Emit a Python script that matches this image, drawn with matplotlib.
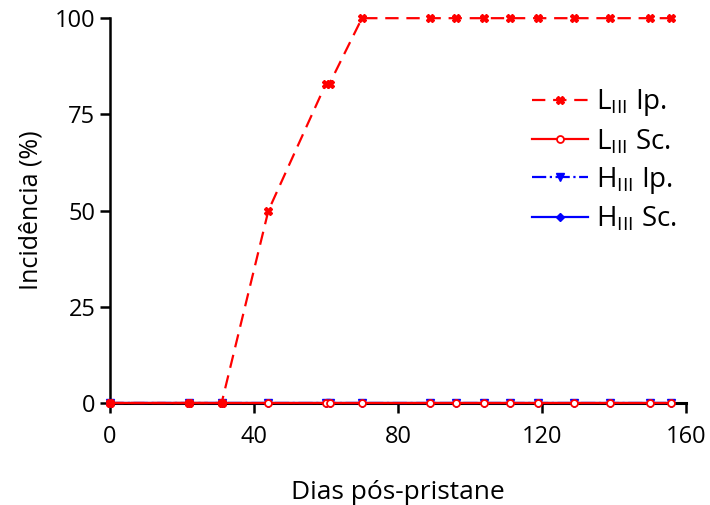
import numpy as np
import matplotlib
matplotlib.use("Agg")
from matplotlib import pyplot as plt

plt.rcParams['font.family'] = ['Open Sans', 'DejaVu Sans']
plt.rcParams['mathtext.fontset'] = 'custom'
plt.rcParams['mathtext.rm'] = 'Open Sans'

# days after pristane
days = [0, 22, 31, 44, 60, 61, 70, 89, 96, 104, 111, 119, 129, 139, 150, 156]
l_ip = [0, 0, 0, 50, 83, 83, 100, 100, 100, 100, 100, 100, 100, 100, 100, 100]
l_sc = [0] * len(days)
h_ip = [0] * len(days)
h_sc = [0] * len(days)

labels = [r'L$_{\mathrm{III}}$ Ip.', r'L$_{\mathrm{III}}$ Sc.',
          r'H$_{\mathrm{III}}$ Ip.', r'H$_{\mathrm{III}}$ Sc.']
xticks = [0, 40, 80, 120, 160]
yticks = [0, 25, 50, 75, 100]

fig = plt.figure(figsize=(7.1, 5.05), dpi=100)
ax = fig.add_axes([0.155, 0.202, 0.811, 0.762])

ax.plot(days, l_ip, color='red', ls=(0, (6, 3.5)), lw=1.6, marker='X', ms=6,
        label=labels[0], clip_on=False, zorder=5)
ax.plot(days, l_sc, color='red', ls='-', lw=1.6, marker='o', ms=5, mfc='white',
        mew=1.3, label=labels[1], clip_on=False, zorder=4)
ax.plot(days, h_ip, color='blue', ls='-.', lw=1.6, marker='v', ms=6,
        label=labels[2], clip_on=False, zorder=3)
ax.plot(days, h_sc, color='blue', ls='-', lw=1.6, marker='D', ms=4.5,
        label=labels[3], clip_on=False, zorder=2)

ax.set_xlim(0, 160)
ax.set_ylim(0, 100)
ax.set_xticks(xticks)
ax.set_yticks(yticks)
ax.spines['top'].set_visible(False)
ax.spines['right'].set_visible(False)
ax.spines['left'].set_linewidth(1.8)
ax.spines['bottom'].set_linewidth(2.2)
ax.tick_params(axis='both', labelsize=17, width=1.8, length=7, direction='out')
ax.tick_params(axis='x', pad=9)
ax.set_xlabel('Dias pós-pristane', fontsize=19, labelpad=22)
ax.set_ylabel('Incidência (%)', fontsize=18, labelpad=8)

leg = ax.legend(loc='upper left', bbox_to_anchor=(0.69, 0.885), frameon=False,
                fontsize=20, handlelength=2.0, labelspacing=0.32, handletextpad=0.3)

fig.savefig('out.png', dpi=100)
